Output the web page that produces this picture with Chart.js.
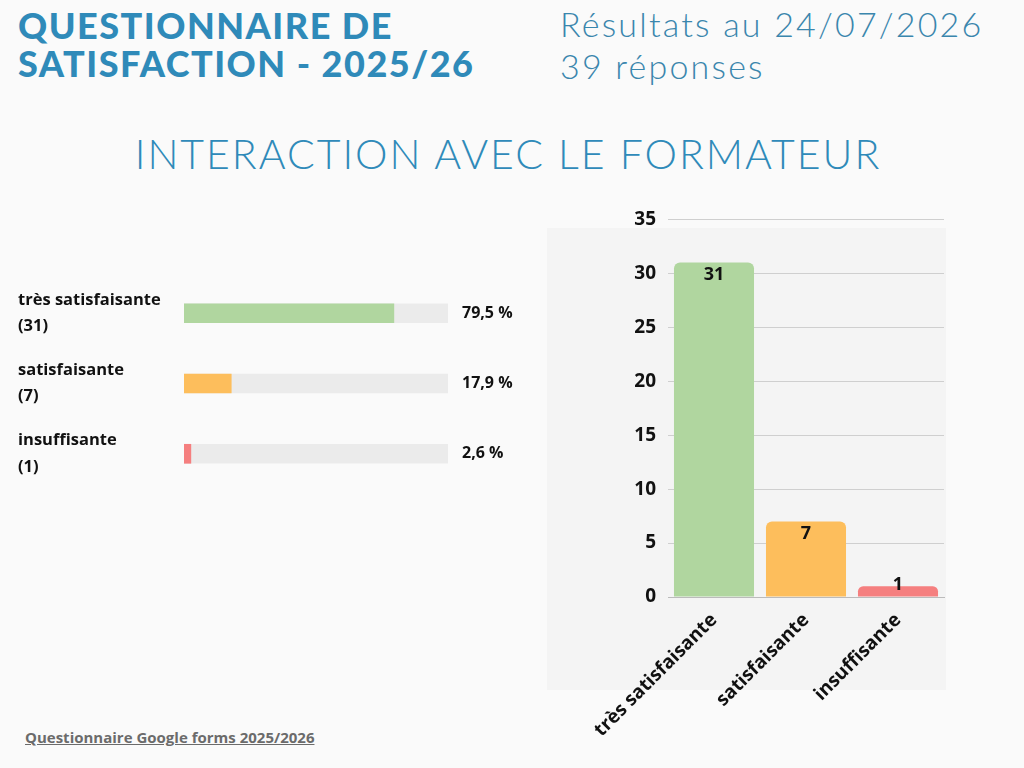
<!DOCTYPE html>
<html lang="fr">
<head>
<meta charset="utf-8">
<title>Interaction avec le formateur</title>
<script src="https://cdn.jsdelivr.net/npm/chart.js@4.4.1/dist/chart.umd.min.js"></script>
<style>
  html, body { margin: 0; padding: 0; }
  body {
    width: 1024px; height: 768px; position: relative; overflow: hidden;
    background: #fafafa; font-family: "Open Sans", Lato, sans-serif;
  }
  .title {
    position: absolute; left: 18px; top: 6px; margin: 0;
    font: 900 36px/38px Lato, sans-serif; color: #2f8ab9; letter-spacing: 1.5px;
  }
  .subtitle {
    position: absolute; left: 560px; top: 3px; margin: 0;
    font: 300 34px/42px Lato, sans-serif; color: #3a86ad; letter-spacing: 2.2px;
  }
  .heading {
    position: absolute; left: 0; width: 1016px; top: 130px; margin: 0; text-align: center;
    font: 300 41px/48px Lato, sans-serif; color: #2f8ab9; letter-spacing: 2px;
  }
  .panel { position: absolute; left: 547px; top: 228px; width: 399px; height: 462px; background: #f4f4f4; }
  #left { position: absolute; left: 0; top: 252px; }
  #right { position: absolute; left: 560px; top: 196px; }
  .footer {
    position: absolute; left: 25px; top: 727px;
    font: 700 15px "Open Sans", sans-serif; color: #6b6b6b; text-decoration: underline;
  }
</style>
</head>
<body>
<h1 class="title">QUESTIONNAIRE DE<br>SATISFACTION - 2025/26</h1>
<p class="subtitle">Résultats au 24/07/2026<br>39 réponses</p>
<h2 class="heading">INTERACTION AVEC LE FORMATEUR</h2>
<div class="panel"></div>
<canvas id="left" width="540" height="263"></canvas>
<canvas id="right" width="390" height="560"></canvas>
<div class="footer">Questionnaire Google forms 2025/2026</div>

<script>
const categories = ["très satisfaisante", "satisfaisante", "insuffisante"];
const counts = [31, 7, 1];
const colors = ["#b0d69f", "#fdbe5c", "#f57f7f"];
const yTicks = [0, 5, 10, 15, 20, 25, 30, 35];

const total = counts.reduce((a, b) => a + b, 0);
const percents = counts.map(c => Math.round(c / total * 1000) / 10);
const fmtPct = p => p.toFixed(1).replace(".", ",") + " %";

const FONT = "'Open Sans', Lato, sans-serif";
Chart.defaults.font.family = FONT;
Chart.defaults.color = "#111";
Chart.defaults.animation = false;

// percentage text after each track
const pctLabels = {
  id: "pctLabels",
  afterDatasetsDraw(chart) {
    const { ctx, chartArea } = chart;
    const meta = chart.getDatasetMeta(1);
    ctx.save();
    ctx.font = "700 16px " + FONT;
    ctx.fillStyle = "#111";
    ctx.textBaseline = "middle";
    meta.data.forEach((bar, i) => {
      ctx.fillText(fmtPct(percents[i]), chartArea.right + 14, bar.y);
    });
    ctx.restore();
  }
};

new Chart(document.getElementById("left"), {
  type: "bar",
  data: {
    labels: categories.map((c, i) => [c, "(" + counts[i] + ")"]),
    datasets: [
      { data: percents, backgroundColor: colors, barThickness: 19, grouped: false, order: 0 },
      { data: counts.map(() => 100), backgroundColor: "#ebebeb", barThickness: 19, grouped: false, order: 1 }
    ]
  },
  options: {
    indexAxis: "y",
    responsive: false,
    layout: { padding: { left: 18, right: 92, top: 0, bottom: 0 } },
    plugins: { legend: { display: false }, tooltip: { enabled: false } },
    scales: {
      x: { min: 0, max: 100, display: false },
      y: {
        grid: { display: false },
        border: { display: false },
        ticks: {
          crossAlign: "far",
          padding: 0,
          font: { size: 16.5, weight: "700", lineHeight: 1.58 },
          color: "#111"
        },
        afterFit(scale) { scale.width = 166; }
      }
    }
  },
  plugins: [pctLabels]
});

// value text inside the top of each bar, kept above the baseline for short bars
const valueLabels = {
  id: "valueLabels",
  afterDatasetsDraw(chart) {
    const { ctx } = chart;
    const meta = chart.getDatasetMeta(0);
    ctx.save();
    ctx.font = "700 18px " + FONT;
    ctx.fillStyle = "#111";
    ctx.textAlign = "center";
    ctx.textBaseline = "middle";
    meta.data.forEach((bar, i) => {
      ctx.fillText(String(counts[i]), bar.x, Math.min(bar.y + 12, bar.base - 12));
    });
    ctx.restore();
  }
};

new Chart(document.getElementById("right"), {
  type: "bar",
  data: {
    labels: categories,
    datasets: [{
      data: counts,
      backgroundColor: colors,
      borderRadius: { topLeft: 6, topRight: 6 },
      borderSkipped: "bottom",
      categoryPercentage: 1,
      barPercentage: 0.87
    }]
  },
  options: {
    responsive: false,
    layout: { padding: { left: 0, right: 6, top: 14, bottom: 0 } },
    plugins: { legend: { display: false }, tooltip: { enabled: false } },
    scales: {
      x: {
        grid: { display: false },
        border: { display: true, color: "#bbb" },
        ticks: {
          minRotation: 45, maxRotation: 45, padding: 4,
          font: { size: 19, weight: "700" }, color: "#111"
        },
        afterFit(scale) { scale.height = 159; }
      },
      y: {
        min: 0, max: 35,
        afterBuildTicks(scale) { scale.ticks = yTicks.map(v => ({ value: v })); },
        grid: { color: "#cfcfcf", drawTicks: false },
        border: { display: false },
        ticks: { padding: 12, font: { size: 19, weight: "700" }, color: "#111" },
        afterFit(scale) { scale.width = 108; }
      }
    }
  },
  plugins: [valueLabels]
});
</script>
</body>
</html>
